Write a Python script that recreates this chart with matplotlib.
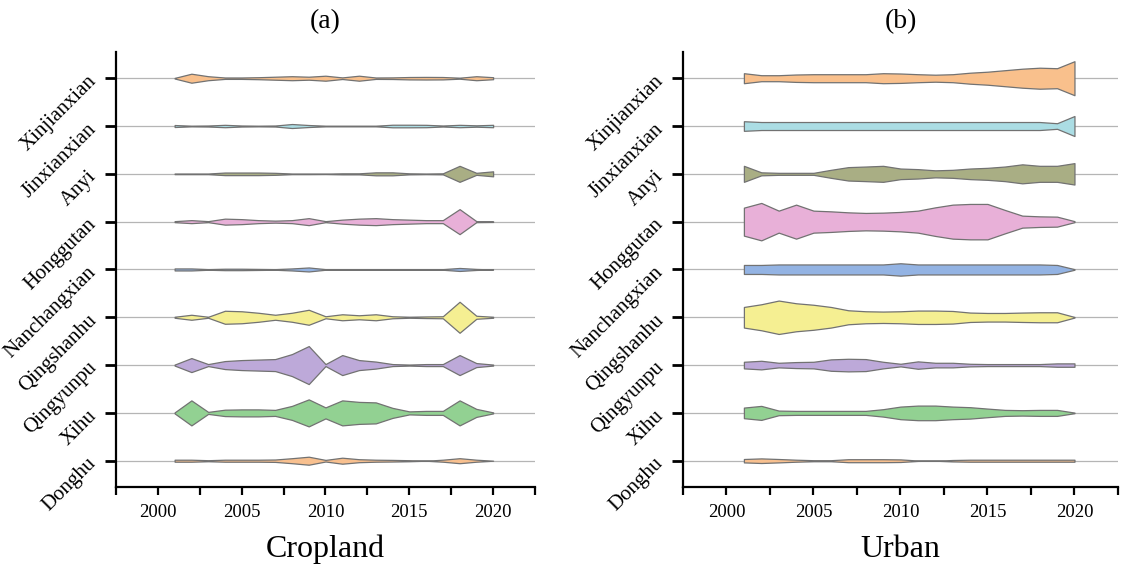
import numpy as np
import matplotlib
matplotlib.use("Agg")
import matplotlib.pyplot as plt
from matplotlib.ticker import FixedLocator

plt.rcParams['font.family'] = ['Liberation Serif', 'DejaVu Serif']

years = list(range(2001, 2021))
districts = ["Donghu", "Xihu", "Qingyunpu", "Qingshanhu", "Nanchangxian",
             "Honggutan", "Anyi", "Jinxianxian", "Xinjianxian"]
colors = ["#f8c08f", "#92d192", "#bda9d9", "#f5ef92", "#93b3e3",
          "#e8b0d8", "#a9ae84", "#abdde4", "#f9c08c"]

# half-widths of the flow bands (relative units), 2001..2020
cropland = {
    "Donghu":       [1, 1, 0.5, 1, 1, 1, 1.2, 2.5, 4, 0.8, 3, 1.5, 1, 0.8, 0.5, 0, 1, 2.5, 1, 0],
    "Xihu":         [0.5, 12.5, 1, 3.2, 3.5, 3.5, 3, 7, 13.5, 5.5, 12.5, 11, 10.5, 5, 1.5, 2, 2, 12.5, 4, 0.5],
    "Qingyunpu":    [0.5, 7, 1, 4, 5, 5.5, 6, 11, 19, 1, 10, 5, 3.5, 1, 0.5, 1, 1, 10, 2, 0.5],
    "Qingshanhu":   [0.5, 2.5, 0.5, 6.5, 6, 4.5, 2.5, 4.5, 7.5, 1, 3, 2, 3, 1, 0.5, 0.8, 1, 15.5, 1.5, 0.5],
    "Nanchangxian": [1, 1, 0.3, 0.7, 0.7, 0.5, 0.3, 1, 2, 0.3, 0.3, 0.3, 0.2, 0.2, 0.2, 0.2, 0.3, 1.5, 0.5, 0],
    "Honggutan":    [0.5, 1.5, 0.5, 3, 2.5, 1.5, 1, 1.5, 3.5, 0.5, 2, 3, 3.5, 2.5, 2, 1.5, 1.5, 12.5, 0.5, 0.3],
    "Anyi":         [0.3, 0.3, 0.3, 1.3, 1.3, 1.3, 1, 0.3, 0.3, 0.2, 0.5, 0.5, 1.5, 1.5, 0.5, 0.3, 0.5, 8, 1, 2.5],
    "Jinxianxian":  [1, 0.3, 0.5, 1.2, 0.5, 0.3, 0.5, 2, 1, 0.3, 0.3, 0.3, 0.3, 1.3, 1.3, 1.2, 0.5, 1.2, 0.7, 1.2],
    "Xinjianxian":  [0.3, 4.5, 2, 0.7, 0.7, 1, 1.5, 2, 1.5, 2.5, 0.8, 2.5, 0.7, 0.8, 1.2, 1.3, 1.2, 0.5, 2, 1],
}
urban = {
    "Donghu":       [1.7, 2.3, 1.7, 1, 0.5, 0.5, 1.5, 1.5, 1.5, 1.3, 0.2, 0, 0.7, 1, 1, 1, 1, 1, 1, 1],
    "Xihu":         [5.3, 7, 2.3, 2, 2, 2, 2, 2, 3.7, 6.3, 7.3, 7.3, 6.3, 5.7, 4.3, 3, 2.7, 3, 3, 0.3],
    "Qingyunpu":    [3.3, 4.3, 2.3, 3, 3.3, 5.7, 6.3, 6, 3.3, 1.3, 3.7, 2.3, 2.3, 1.3, 1, 1, 1, 1, 1.7, 1.7],
    "Qingshanhu":   [10.3, 13, 16.7, 14, 12.5, 10.3, 7, 6, 5.7, 6, 6.7, 6.7, 6.3, 4.7, 4.3, 4.3, 4.7, 5, 5, 0.3],
    "Nanchangxian": [4.5, 4.5, 5, 5, 5, 5, 5, 5, 5, 6.2, 5, 5, 5, 5, 5, 5, 5, 5, 4.5, 0.3],
    "Honggutan":    [14, 18.7, 11, 17, 11, 10.3, 9.3, 8.7, 9, 9.7, 11, 14.3, 17, 17.7, 17.7, 11.7, 6, 5.3, 5, 0.5],
    "Anyi":         [8, 1.5, 1, 1, 1, 4, 6.7, 7.3, 8, 5.3, 4.7, 3.5, 4, 5.3, 6, 7.3, 9.5, 8, 8, 10.7],
    "Jinxianxian":  [4.8, 4, 4, 4, 4, 4, 4, 4, 4, 4, 4, 4, 4, 4, 4, 4, 4, 4, 2.8, 10],
    "Xinjianxian":  [5, 3, 3, 3.7, 4, 4, 4, 4, 5, 4.7, 4, 3.5, 4, 5.5, 6.5, 8, 9.5, 10.5, 10, 17],
}
panel_titles = ["(a)", "(b)"]
panel_xlabels = ["Cropland", "Urban"]

SCALE = 1 / 47.8  # relative units -> row spacing

fig = plt.figure(figsize=(11.28, 5.68), dpi=100)
axes = [fig.add_axes([0.1028, 0.1426, 0.3715, 0.766]),
        fig.add_axes([0.6055, 0.1426, 0.3856, 0.766])]

for ax, data, title, xlab in zip(axes, [cropland, urban], panel_titles, panel_xlabels):
    x = np.array(years, dtype=float)
    for i, (d, c) in enumerate(zip(districts, colors)):
        ax.axhline(i, color="#b5b5b5", lw=0.9, zorder=1)
        w = np.array(data[d]) * SCALE
        ax.fill_between(x, i - w, i + w, facecolor=c, edgecolor="#727272",
                        lw=0.9, zorder=2)
    ax.set_xlim(1997.5, 2022.5)
    ax.set_ylim(-0.55, 8.55)
    ax.spines['top'].set_visible(False)
    ax.spines['right'].set_visible(False)
    ax.spines['left'].set_linewidth(1.6)
    ax.spines['bottom'].set_linewidth(1.6)
    ax.xaxis.set_major_locator(FixedLocator([2000, 2005, 2010, 2015, 2020]))
    ax.xaxis.set_minor_locator(FixedLocator([1997.5, 2002.5, 2007.5, 2012.5, 2017.5, 2022.5]))
    ax.tick_params(axis='x', which='both', direction='out', length=6, width=1.6,
                   labelsize=13.5, pad=6)
    ax.set_yticks(range(len(districts)))
    ax.set_yticklabels(districts, rotation=45, ha='right', va='center',
                       rotation_mode='anchor', fontsize=15)
    ax.tick_params(axis='y', direction='out', length=8, width=2, pad=8)
    ax.set_title(title, fontsize=20, pad=17)
    ax.set_xlabel(xlab, fontsize=23, labelpad=10)

fig.savefig("out.png", dpi=100)
